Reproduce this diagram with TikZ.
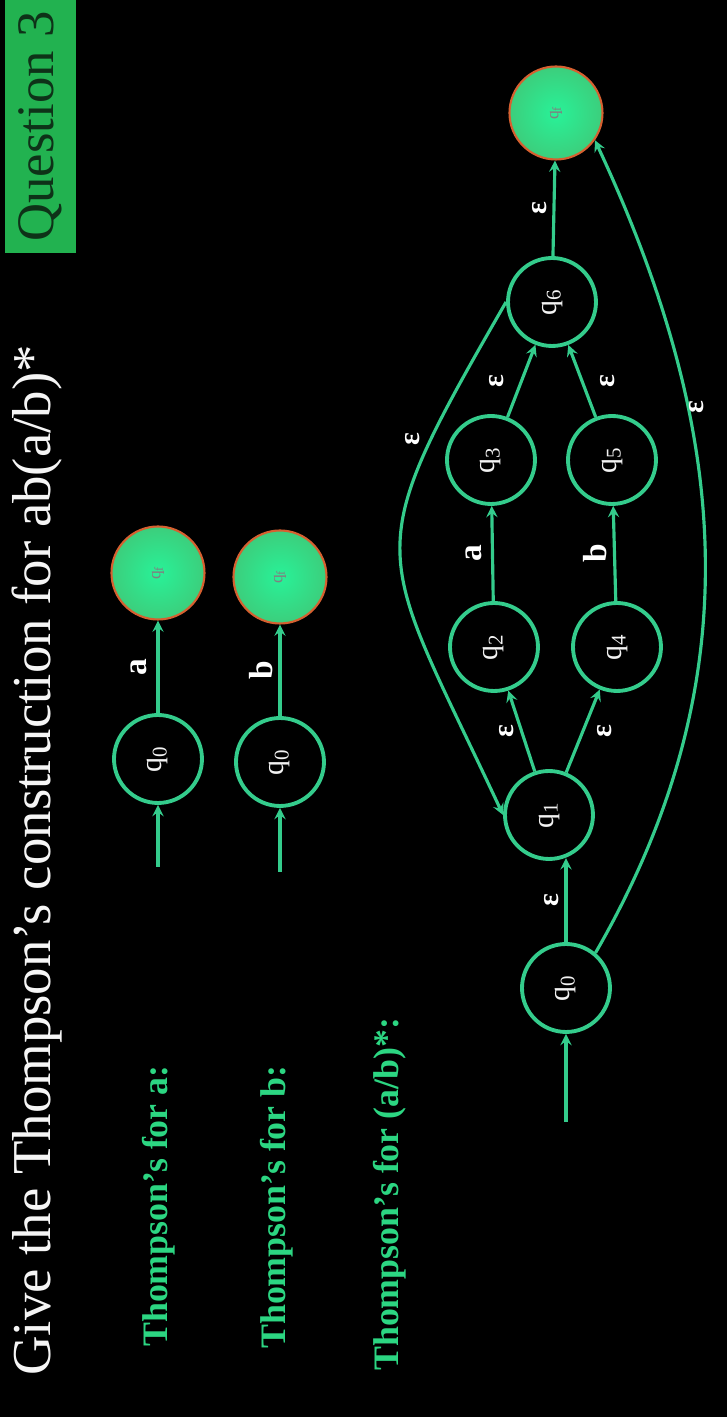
\documentclass[tikz,border=0pt]{standalone}
\usepackage{fontspec}
\setmainfont{Liberation Serif}
\usetikzlibrary{arrows, positioning, calc}
\definecolor{mint}{RGB}{52, 204, 140}
\definecolor{slidegreen}{RGB}{34, 178, 80}
\definecolor{finalin}{RGB}{40, 242, 152}
\definecolor{finalout}{RGB}{60, 206, 124}
\definecolor{finaledge}{RGB}{214, 96, 48}
\definecolor{labelgreen}{RGB}{44, 214, 130}
\definecolor{darktext}{RGB}{14, 50, 24}

\begin{document}
\begin{tikzpicture}[
    x=0.02cm, y=0.02cm,
    state/.style={circle, draw=mint, line width=2.2pt, minimum size=1.76cm, inner sep=0pt, text=white!90!gray, font=\fontsize{17}{20}\selectfont},
    final/.style={circle, draw=finaledge, line width=1.2pt, inner color=finalin, outer color=finalout, minimum size=1.86cm, inner sep=0pt, text=gray, font=\fontsize{10}{12}\selectfont},
    heading/.style={anchor=base west, text=labelgreen, font=\fontsize{20.4}{24}\selectfont\bfseries},
    lbl/.style={text=white, font=\fontsize{19}{22}\selectfont\bfseries},
    eps/.style={text=white, font=\fontsize{17}{20}\selectfont\bfseries},
    arr/.style={->, >=stealth, line width=1.8pt, draw=mint}
]
\begin{scope}[rotate=90, transform shape]
    \useasboundingbox (0,0) rectangle (1417,727);
    \fill[black] (0,0) rectangle (1417,727);

    % title and tag
    \node[anchor=base west, text=white!92!gray, font=\fontsize{31.2}{36}\selectfont] (title) at (35,676) {Give the Thompson’s construction for ab(a/b)*};
    \node[fill=slidegreen, minimum width=5.06cm, minimum height=1.42cm, inner sep=0pt, text=darktext, font=\fontsize{30}{34}\selectfont] (question) at (1290.5,686.5) {Question 3};

    % headings
    \node[heading] (heada) at (64,559) {Thompson’s for a:};
    \node[heading] (headb) at (62,441) {Thompson’s for b:};
    \node[heading] (headab) at (40,328) {Thompson’s for (a/b)*:};

    % automaton for a
    \coordinate (ina) at (550,569);
    \node[state] (a0) at (658,569) {q\textsubscript{0}};
    \node[final] (af) at (844,569) {q\textsubscript{f}};
    \draw[arr] (ina) -- (a0);
    \draw[arr] (a0) -- node[lbl, above=2pt] {a} (af);

    % automaton for b
    \coordinate (inb) at (545,447);
    \node[state] (b0) at (655,447) {q\textsubscript{0}};
    \node[final] (bf) at (840,447) {q\textsubscript{f}};
    \draw[arr] (inb) -- (b0);
    \draw[arr] (b0) -- node[lbl, above=0pt] {b} (bf);

    % automaton for (a/b)*
    \coordinate (in) at (295,161);
    \node[state] (q0) at (429,161) {q\textsubscript{0}};
    \node[state] (q1) at (602,178) {q\textsubscript{1}};
    \node[state] (q2) at (770,233) {q\textsubscript{2}};
    \node[state] (q4) at (770,110) {q\textsubscript{4}};
    \node[state] (q3) at (957,236) {q\textsubscript{3}};
    \node[state] (q5) at (957,115) {q\textsubscript{5}};
    \node[state] (q6) at (1115,175) {q\textsubscript{6}};
    \node[final] (qf) at (1304,171) {q\textsubscript{f}};

    \draw[arr] (in) -- (q0);
    \draw[arr] (q0) -- node[eps, above=0pt] {ε} (q0 -| q1.200);
    \draw[arr] (q1) -- node[eps, above=0pt] {ε} (q2);
    \draw[arr] (q1) -- node[eps, below=4pt] {ε} (q4);
    \draw[arr] (q2) -- node[lbl, above=2pt] {a} (q3);
    \draw[arr] (q4) -- node[lbl, above=0pt] {b} (q5);
    \draw[arr] (q3) -- node[eps, above=6pt] {ε} (q6);
    \draw[arr] (q5) -- node[eps, below=6pt] {ε} (q6);
    \draw[arr] (q6) -- node[eps, above=0pt] {ε} (qf);
    \draw[arr] (q6.north) to[out=150, in=25, looseness=1.5] node[eps, pos=0.22, above=2pt] {ε} (q1.north);
    \draw[arr] (q0.-40) to[out=-30, in=-155] node[eps, pos=0.68, below=-3pt] {ε} (qf.-125);
\end{scope}
\end{tikzpicture}
\end{document}
